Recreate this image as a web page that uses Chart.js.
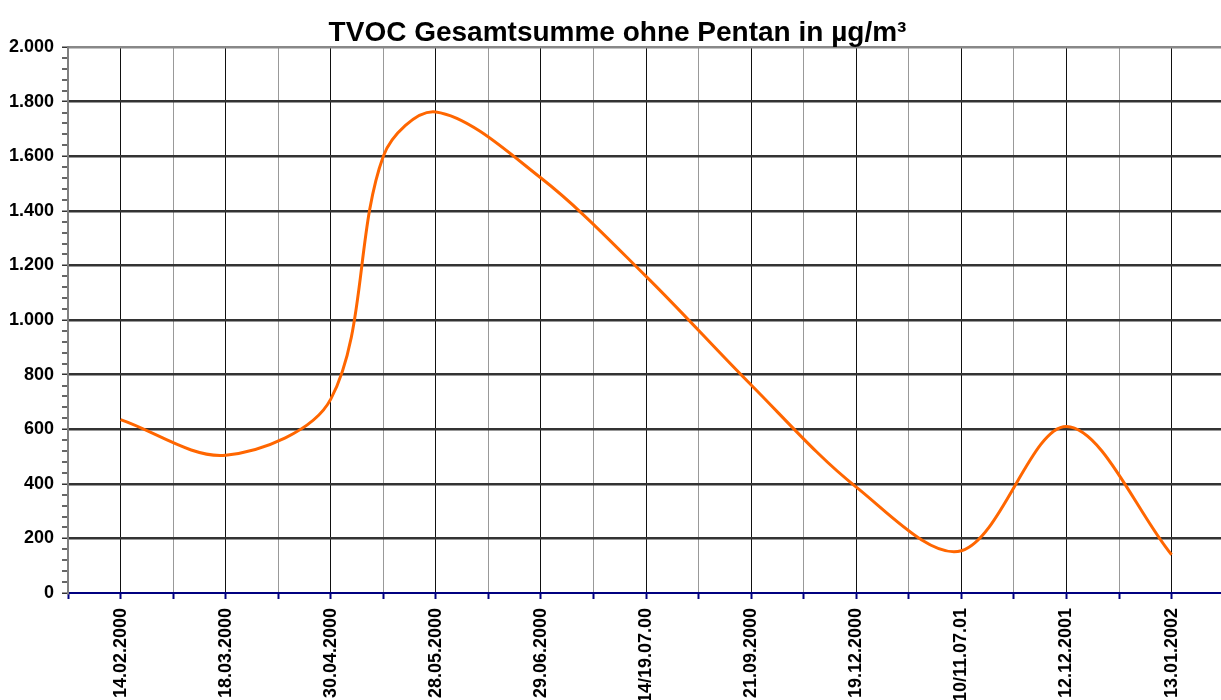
<!DOCTYPE html>
<html>
<head>
<meta charset="utf-8">
<script src="https://cdn.jsdelivr.net/npm/chart.js@4/dist/chart.umd.min.js"></script>
<style>
  html, body { margin: 0; padding: 0; background: #fff; overflow: hidden; }
  #wrap { width: 1221px; height: 700px; position: relative; }
</style>
</head>
<body>
<div id="wrap"><canvas id="c" width="1221" height="700"></canvas></div>
<script>
// ---- data ----
const categories = ['14.02.2000','18.03.2000','30.04.2000','28.05.2000','29.06.2000','14/19.07.00','21.09.2000','19.12.2000','10/11.07.01','12.12.2001','13.01.2002'];
// positions on the category axis (index of category; 2.5 = unlabeled measurement between 30.04 and 28.05)
const xPositions = [0, 1, 2, 2.5, 3, 4, 5, 6, 7, 8, 9, 10];
const tvocValues = [635, 505, 710, 1600, 1762, 1520, 1160, 762, 388, 155, 610, 140];
const yMajorTicks = [0, 200, 400, 600, 800, 1000, 1200, 1400, 1600, 1800, 2000];
const yMinorStep = 40;
const titleText = 'TVOC Gesamtsumme ohne Pentan in µg/m³';

function fmtDE(v) {
  return String(v).replace(/\B(?=(\d{3})+(?!\d))/g, '.');
}

const points = xPositions.map((x, i) => ({ x: x, y: tvocValues[i] }));
const FONT = "'Liberation Sans', Arial, sans-serif";

new Chart(document.getElementById('c'), {
  type: 'line',
  data: {
    datasets: [{
      data: points,
      borderColor: '#FF6600',
      borderWidth: 3,
      pointRadius: 0,
      tension: 0.33,
      fill: false
    }]
  },
  options: {
    responsive: false,
    animation: false,
    devicePixelRatio: 1,
    layout: { padding: { left: 0, right: 0, top: 0, bottom: 0 } },
    plugins: {
      legend: { display: false },
      tooltip: { enabled: false },
      title: {
        display: true,
        text: '\u2002' + titleText,
        color: '#000',
        font: { family: FONT, size: 28, weight: 'bold', lineHeight: 1 },
        padding: { top: 19, bottom: 0 }
      }
    },
    scales: {
      x: {
        type: 'linear',
        min: -0.5,
        max: 10.47,
        afterBuildTicks: (s) => {
          const t = [];
          for (let v = -0.5; v <= categories.length - 1 + 0.001; v += 0.5) t.push({ value: v });
          s.ticks = t;
        },
        afterFit: (s) => { s.height = 107; },
        ticks: {
          autoSkip: false,
          minRotation: 90,
          maxRotation: 90,
          padding: 9,
          color: '#000',
          font: { family: FONT, size: 18, weight: 'bold' },
          callback: (v) => Number.isInteger(v) ? categories[v] : ''
        },
        grid: {
          color: (ctx) => {
            const v = ctx.tick ? ctx.tick.value : 0;
            if (v < 0) return 'rgba(0,0,0,0)';
            return Number.isInteger(v) ? '#111' : '#999';
          },
          lineWidth: 1,
          drawTicks: true,
          tickLength: 6,
          tickColor: '#000080',
          tickWidth: 2
        },
        border: { display: true, color: '#000080', width: 2 }
      },
      y: {
        type: 'linear',
        min: 0,
        max: 2000,
        afterBuildTicks: (s) => {
          const t = [];
          for (let v = 0; v <= 2000; v += yMinorStep) t.push({ value: v });
          s.ticks = t;
        },
        afterFit: (s) => { s.width = 68; },
        ticks: {
          autoSkip: false,
          padding: 8,
          color: '#000',
          font: { family: FONT, size: 18, weight: 'bold' },
          callback: (v) => yMajorTicks.includes(v) ? fmtDE(v) : ''
        },
        grid: {
          color: (ctx) => {
            const v = ctx.tick ? ctx.tick.value : 0;
            if (v === 0) return 'rgba(0,0,0,0)';
            if (v === 2000) return '#888';
            return yMajorTicks.includes(v) ? '#333' : 'rgba(0,0,0,0)';
          },
          lineWidth: (ctx) => {
            const v = ctx.tick ? ctx.tick.value : 0;
            return yMajorTicks.includes(v) ? 2.5 : 0;
          },
          drawTicks: true,
          tickLength: 6,
          tickColor: '#333',
          tickWidth: 1.5
        },
        border: { display: true, color: '#808080', width: 2 }
      }
    }
  }
});
</script>
</body>
</html>
